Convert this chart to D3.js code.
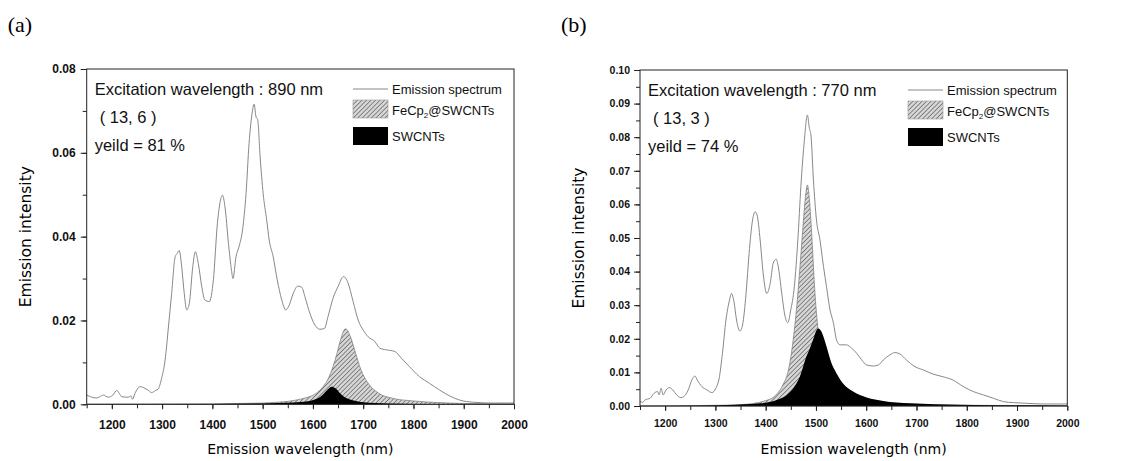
<!DOCTYPE html>
<html>
<head>
<meta charset="utf-8">
<script src="https://cdn.jsdelivr.net/npm/d3@7"></script>
<style>
  body { margin: 0; background: #fff; }
  svg { display: block; }
</style>
</head>
<body>
<svg id="chart" width="1121" height="461"></svg>
<script>
// emission spectrum, panel (a) : [wavelength nm, intensity]
const spectrumA = [
  [1150,0.0022],[1160,0.0017],[1170,0.0015],[1176,0.0018],[1183,0.0022],[1193,0.0017],[1202,0.0022],
  [1210,0.0033],[1220,0.0018],[1233,0.0017],[1238,0.0020],[1241,0.0012],[1246,0.0026],[1256,0.0042],
  [1266,0.0038],[1272,0.0034],[1279,0.0028],[1287,0.0033],[1292,0.0036],[1299,0.0062],[1306,0.0106],
  [1312,0.0177],[1319,0.0265],[1326,0.0352],[1330,0.0360],[1334,0.0367],[1339,0.0328],[1344,0.0265],
  [1349,0.0225],[1354,0.0240],[1361,0.0328],[1366,0.0364],[1372,0.0336],[1379,0.0280],[1385,0.0249],
  [1394,0.0245],[1402,0.0297],[1410,0.0432],[1415,0.0480],[1420,0.0499],[1425,0.0472],[1432,0.0384],
  [1438,0.0320],[1441,0.0300],[1447,0.0352],[1453,0.0376],[1460,0.0416],[1467,0.0503],[1473,0.0623],
  [1479,0.0694],[1483,0.0716],[1487,0.0685],[1490,0.0680],[1495,0.0590],[1501,0.0503],[1508,0.0440],
  [1513,0.0392],[1521,0.0352],[1529,0.0297],[1538,0.0249],[1546,0.0225],[1553,0.0237],[1561,0.0265],
  [1570,0.0282],[1578,0.0279],[1584,0.0257],[1594,0.0217],[1604,0.0189],[1614,0.0179],[1623,0.0181],
  [1630,0.0209],[1640,0.0253],[1650,0.0281],[1661,0.0305],[1670,0.0289],[1680,0.0245],[1690,0.0201],
  [1700,0.0177],[1710,0.0161],[1723,0.0150],[1733,0.0134],[1746,0.0130],[1763,0.0126],[1776,0.0110],
  [1792,0.0090],[1812,0.0066],[1832,0.0050],[1852,0.0034],[1872,0.0020],[1892,0.0010],[1919,0.0005],
  [1958,0.0003],[2000,0.0003]
];
// FeCp2@SWCNTs component, panel (a)
const fecpA = [
  [1150,0.0000],[1400,0.0001],[1450,0.0002],[1500,0.0003],[1530,0.0005],[1550,0.0007],[1570,0.0011],
  [1590,0.0017],[1605,0.0025],[1620,0.0042],[1630,0.0060],[1640,0.0090],[1648,0.0122],[1656,0.0158],
  [1662,0.0177],[1665,0.0180],[1668,0.0178],[1675,0.0160],[1685,0.0122],[1695,0.0084],[1710,0.0050],
  [1730,0.0027],[1760,0.0014],[1800,0.0008],[1850,0.0004],[1900,0.0002],[2000,0.0001]
];
// SWCNTs component, panel (a)
const swcntA = [
  [1150,0.0000],[1400,0.0001],[1500,0.0002],[1560,0.0004],[1590,0.0007],[1605,0.0012],[1615,0.0018],
  [1622,0.0026],[1630,0.0036],[1637,0.0042],[1645,0.0038],[1652,0.0029],[1660,0.0020],[1670,0.0013],
  [1685,0.0008],[1700,0.0005],[1750,0.0002],[1800,0.0001],[2000,0.0000]
];

// emission spectrum, panel (b)
const spectrumB = [
  [1150,0.0013],[1155,0.0011],[1160,0.0018],[1170,0.0023],[1178,0.0038],[1185,0.0043],[1188,0.0033],
  [1192,0.0053],[1196,0.0033],[1202,0.0048],[1208,0.0055],[1215,0.0048],[1223,0.0033],[1231,0.0025],
  [1237,0.0028],[1246,0.0048],[1253,0.0077],[1259,0.0089],[1264,0.0077],[1273,0.0058],[1283,0.0048],
  [1293,0.0040],[1301,0.0053],[1308,0.0087],[1314,0.0157],[1321,0.0256],[1328,0.0315],[1332,0.0335],
  [1337,0.0310],[1342,0.0256],[1349,0.0223],[1354,0.0241],[1361,0.0335],[1367,0.0454],[1374,0.0554],
  [1379,0.0578],[1383,0.0568],[1389,0.0494],[1395,0.0395],[1402,0.0335],[1409,0.0365],[1415,0.0425],
  [1421,0.0437],[1425,0.0415],[1432,0.0335],[1438,0.0271],[1444,0.0248],[1450,0.0286],[1457,0.0355],
  [1464,0.0494],[1470,0.0653],[1477,0.0792],[1483,0.0866],[1487,0.0826],[1490,0.0807],[1495,0.0673],
  [1501,0.0554],[1508,0.0494],[1515,0.0415],[1521,0.0355],[1528,0.0286],[1535,0.0246],[1541,0.0196],
  [1548,0.0182],[1561,0.0182],[1571,0.0172],[1581,0.0157],[1591,0.0137],[1601,0.0122],[1614,0.0119],
  [1624,0.0122],[1634,0.0137],[1647,0.0152],[1657,0.0159],[1667,0.0155],[1680,0.0137],[1697,0.0117],
  [1714,0.0107],[1733,0.0095],[1753,0.0087],[1773,0.0077],[1793,0.0058],[1813,0.0043],[1833,0.0033],
  [1853,0.0023],[1873,0.0013],[1893,0.0010],[1919,0.0008],[1952,0.0006],[2000,0.0006]
];
// FeCp2@SWCNTs component, panel (b)
const fecpB = [
  [1150,0.0000],[1300,0.0002],[1350,0.0004],[1400,0.0016],[1420,0.0032],[1435,0.0065],[1445,0.0105],
  [1455,0.0200],[1462,0.0300],[1468,0.0410],[1474,0.0530],[1479,0.0620],[1483,0.0658],[1487,0.0615],
  [1492,0.0500],[1497,0.0360],[1502,0.0260],[1510,0.0170],[1520,0.0100],[1540,0.0050],[1580,0.0020],
  [1650,0.0008],[1800,0.0002],[2000,0.0001]
];
// SWCNTs component, panel (b)
const swcntB = [
  [1150,0.0000],[1250,0.0001],[1322,0.0003],[1389,0.0008],[1422,0.0018],[1442,0.0033],[1455,0.0053],
  [1468,0.0087],[1481,0.0147],[1488,0.0172],[1495,0.0200],[1500,0.0222],[1505,0.0231],[1510,0.0224],
  [1515,0.0206],[1521,0.0177],[1531,0.0127],[1541,0.0097],[1554,0.0067],[1574,0.0043],[1601,0.0025],
  [1634,0.0015],[1687,0.0008],[1787,0.0004],[2000,0.0001]
];

const xTicks = [1200, 1300, 1400, 1500, 1600, 1700, 1800, 1900, 2000];
const yTicksA = [0.00, 0.02, 0.04, 0.06, 0.08];
const yTicksB = [0.00, 0.01, 0.02, 0.03, 0.04, 0.05, 0.06, 0.07, 0.08, 0.09, 0.10];
const legendLabels = ['Emission spectrum', 'FeCp2@SWCNTs', 'SWCNTs'];
const notesA = ['Excitation wavelength : 890 nm', '( 13, 6 )', 'yeild = 81 %'];
const notesB = ['Excitation wavelength : 770 nm', '( 13, 3 )', 'yeild = 74 %'];

const svg = d3.select('#chart');

// hatch for the FeCp2 fill
const pat = svg.append('defs').append('pattern')
  .attr('id', 'hatch')
  .attr('patternUnits', 'userSpaceOnUse')
  .attr('width', 3.2).attr('height', 3.2)
  .attr('patternTransform', 'rotate(45)');
pat.append('rect').attr('width', 3.2).attr('height', 3.2).attr('fill', '#d6d6d6');
pat.append('line').attr('x1', 0).attr('y1', 0).attr('x2', 0).attr('y2', 3.2)
  .attr('stroke', '#5a5a5a').attr('stroke-width', 1.3);

function drawPanel(p) {
  const x = d3.scaleLinear().domain([1150, 2000]).range([p.left, p.right]);
  const y = d3.scaleLinear().domain([0, p.ymax]).range([p.bottom, p.top]);
  const g = svg.append('g');

  const area = d3.area().x(d => x(d[0])).y0(y(0)).y1(d => y(d[1])).curve(d3.curveMonotoneX);
  const line = d3.line().x(d => x(d[0])).y(d => y(d[1])).curve(d3.curveMonotoneX);

  g.append('path').datum(p.fecp)
    .attr('d', area).attr('fill', 'url(#hatch)')
    .attr('stroke', '#777').attr('stroke-width', 0.7);
  g.append('path').datum(p.swcnt)
    .attr('d', area).attr('fill', '#000');
  g.append('path').datum(p.spectrum)
    .attr('d', line).attr('fill', 'none')
    .attr('stroke', '#888').attr('stroke-width', 1);

  // frame
  g.append('rect')
    .attr('x', p.left).attr('y', p.top)
    .attr('width', p.right - p.left).attr('height', p.bottom - p.top)
    .attr('fill', 'none').attr('stroke', '#222').attr('stroke-width', 1);

  // axes
  const xMinor = d3.range(1150, 2001, 50);
  g.append('g').attr('transform', `translate(0,${p.bottom})`)
    .call(d3.axisBottom(x).tickValues(xMinor).tickSize(4).tickFormat(''))
    .call(s => s.select('.domain').remove());
  const xa = g.append('g').attr('transform', `translate(0,${p.bottom})`)
    .call(d3.axisBottom(x).tickValues(xTicks).tickSize(5).tickPadding(p.xPad).tickFormat(d3.format('d')));
  xa.select('.domain').remove();
  xa.selectAll('text').attr('font-size', p.tickFont);

  g.append('g').attr('transform', `translate(${p.left},0)`)
    .call(d3.axisLeft(y).tickValues(d3.range(0, p.ymax + 1e-9, p.yMinor)).tickSize(4).tickFormat(''))
    .call(s => s.select('.domain').remove());
  const ya = g.append('g').attr('transform', `translate(${p.left},0)`)
    .call(d3.axisLeft(y).tickValues(p.yTicks).tickSize(6).tickPadding(p.yPad).tickFormat(d3.format('.2f')));
  ya.select('.domain').remove();
  ya.selectAll('text').attr('font-size', p.tickFont);

  g.selectAll('.tick line').attr('stroke', '#222');
  g.selectAll('.tick text')
    .attr('font-family', 'Liberation Sans, Arial, sans-serif')
    .attr('font-weight', 'bold').attr('fill', '#111');

  // axis titles
  g.append('text')
    .attr('x', (p.left + p.right) / 2).attr('y', 454)
    .attr('text-anchor', 'middle')
    .attr('font-family', 'DejaVu Sans, sans-serif').attr('font-size', 14)
    .text('Emission wavelength (nm)');
  g.append('text')
    .attr('transform', `translate(${p.left - 56},${(p.top + p.bottom) / 2}) rotate(-90)`)
    .attr('text-anchor', 'middle')
    .attr('font-family', 'DejaVu Sans, sans-serif').attr('font-size', 15.5)
    .text('Emission intensity');

  // panel letter
  g.append('text')
    .attr('x', p.left - 79).attr('y', 32)
    .attr('font-family', 'Liberation Serif, Times New Roman, serif').attr('font-size', 22)
    .text(p.letter);

  // notes
  const noteX = [p.left + 8, p.left + 13, p.left + 8];
  p.notes.forEach((t, i) => {
    g.append('text')
      .attr('x', noteX[i]).attr('y', p.top + 26 + i * 28)
      .attr('font-family', 'Liberation Sans, Arial, sans-serif').attr('font-size', 16.5)
      .attr('fill', '#111')
      .text(t);
  });

  // legend
  const lx = p.legendX, ly = p.top + 20;
  g.append('line')
    .attr('x1', lx).attr('x2', lx + 35).attr('y1', ly).attr('y2', ly)
    .attr('stroke', '#888').attr('stroke-width', 1);
  g.append('rect').attr('x', lx).attr('y', ly + 11).attr('width', 35).attr('height', 18)
    .attr('fill', 'url(#hatch)').attr('stroke', '#999').attr('stroke-width', 0.6);
  g.append('rect').attr('x', lx).attr('y', ly + 38).attr('width', 35).attr('height', 18)
    .attr('fill', '#000');

  const lt = g.append('g')
    .attr('font-family', 'Liberation Sans, Arial, sans-serif').attr('font-size', 13).attr('fill', '#111');
  lt.append('text').attr('x', lx + 39).attr('y', ly + 4.5).text(legendLabels[0]);
  const fe = lt.append('text').attr('x', lx + 39).attr('y', ly + 25.5);
  fe.append('tspan').text('FeCp');
  fe.append('tspan').attr('font-size', 8).attr('dy', 3).text('2');
  fe.append('tspan').attr('dy', -3).text('@SWCNTs');
  lt.append('text').attr('x', lx + 39).attr('y', ly + 52).text(legendLabels[2]);
}

drawPanel({
  letter: '(a)', left: 86.7, right: 514, top: 69, bottom: 404.3, ymax: 0.08,
  yTicks: yTicksA, yMinor: 0.01, tickFont: 12, xPad: 11, yPad: 5,
  spectrum: spectrumA, fecp: fecpA, swcnt: swcntA, notes: notesA, legendX: 353
});
drawPanel({
  letter: '(b)', left: 640, right: 1067.3, top: 70, bottom: 406, ymax: 0.10,
  yTicks: yTicksB, yMinor: 0.005, tickFont: 10.5, xPad: 9, yPad: 4,
  spectrum: spectrumB, fecp: fecpB, swcnt: swcntB, notes: notesB, legendX: 908
});
</script>
</body>
</html>
